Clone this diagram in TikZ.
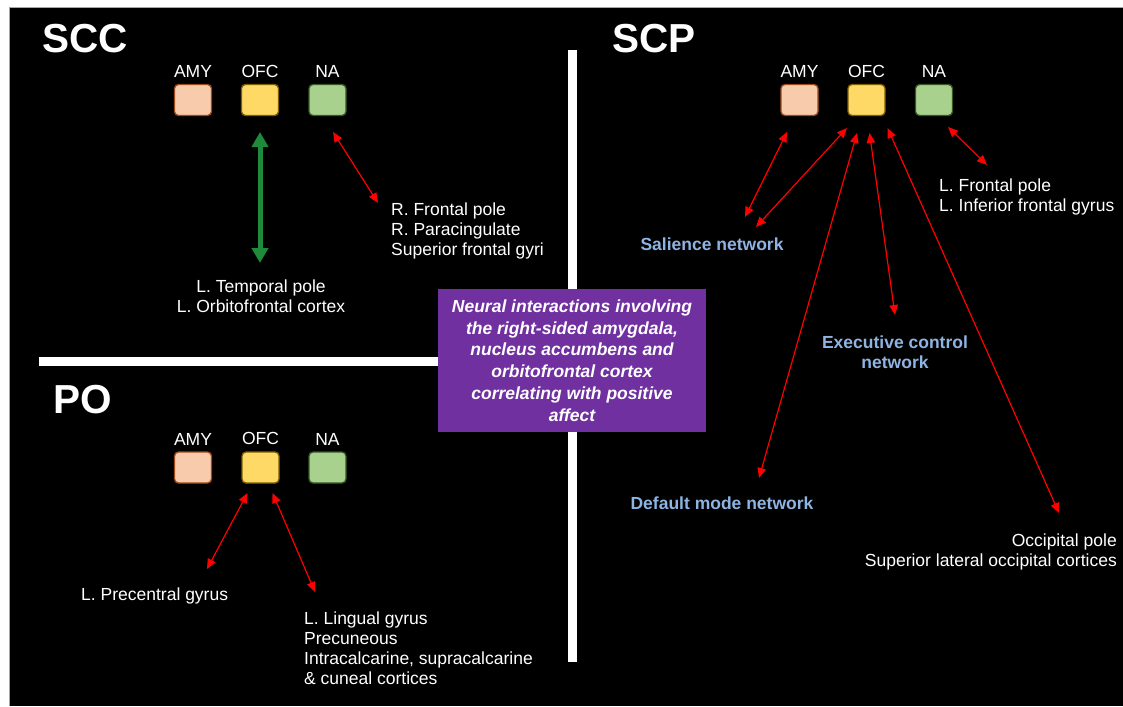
\documentclass[tikz,border=0pt]{standalone}
\usepackage{fontspec}
\setmainfont{Liberation Sans}
\usepackage{xcolor}
\usetikzlibrary{arrows.meta, positioning}

\definecolor{amyfill}{HTML}{F8CBAD}
\definecolor{amyedge}{HTML}{9C4A1A}
\definecolor{ofcfill}{HTML}{FFD966}
\definecolor{ofcedge}{HTML}{7F6000}
\definecolor{nafill}{HTML}{A9D18E}
\definecolor{naedge}{HTML}{385723}
\definecolor{netblue}{HTML}{8DB4E2}
\definecolor{purp}{HTML}{7030A0}
\definecolor{arrgreen}{HTML}{1E8B3A}

\begin{document}
\begin{tikzpicture}[
  x=1pt, y=-1pt,
  every node/.style={font=\fontsize{17.5}{20}\selectfont, text=white, inner sep=0pt},
  region/.style={font=\fontsize{40.5}{40.5}\selectfont\bfseries, anchor=base west},
  roi/.style={rounded corners=4pt, line width=1.3pt,
              minimum width=37pt, minimum height=31pt},
  amy/.style={roi, fill=amyfill, draw=amyedge},
  ofc/.style={roi, fill=ofcfill, draw=ofcedge},
  na/.style={roi, fill=nafill, draw=naedge},
  net/.style={font=\fontsize{17.5}{20}\selectfont\bfseries, text=netblue, align=center},
  area/.style={align=left, anchor=west},
  summary/.style={fill=purp, minimum width=268pt, minimum height=143pt, align=center,
                  font=\fontsize{17.5}{21.8}\selectfont\bfseries\itshape},
  arr/.style={{Triangle[length=10pt,width=8.5pt]}-{Triangle[length=10pt,width=8.5pt]},
              red, line width=1.2pt},
  garr/.style={{Triangle[length=15pt,width=16pt]}-{Triangle[length=15pt,width=16pt]},
               arrgreen, line width=5pt},
  bar/.style={white, line width=9pt},
]
  \useasboundingbox (0,0) rectangle (1123,706);
  % ── Slide background ─────────────────────────────
  \fill[white] (0,0) rectangle (1123,706);
  \fill[black] (10,8.5) rectangle (1123,706);
  \draw[black!35, line width=1pt] (9.5,706) -- (9.5,8) -- (1123,8);

  % ── Quadrant separators ──────────────────────────
  \draw[bar] (572.5,50) -- (572.5,662);
  \draw[bar] (39,361.5) -- (440,361.5);

  % ── SCC (top left) ───────────────────────────────
  \node[region] (sccT) at (42,53) {SCC};
  \node[amy] (sccA) at (193,100)   {};
  \node[ofc] (sccO) at (260,100)   {};
  \node[na]  (sccN) at (327.5,100) {};
  \node[above=6pt of sccA] (sccAl) {AMY};
  \node[above=6pt of sccO] (sccOl) {OFC};
  \node[above=6pt of sccN] (sccNl) {NA};
  \node[align=center] (sccTP) at (261,296) {L. Temporal pole\\L. Orbitofrontal cortex};
  \node[area] (sccRF) at (391,231) {R. Frontal pole\\R. Paracingulate\\Superior frontal gyri};
  \coordinate (sccG1) at (260,132);
  \coordinate (sccG2) at (260,263);
  \coordinate (sccR1) at (333,132);
  \coordinate (sccR2) at (378,203);
  \draw[garr] (sccG1) -- (sccG2);
  \draw[arr]  (sccR1) -- (sccR2);

  % ── SCP (top right) ──────────────────────────────
  \node[region] (scpT) at (612,53) {SCP};
  \node[amy] (scpA) at (799.5,100) {};
  \node[ofc] (scpO) at (866.5,100) {};
  \node[na]  (scpN) at (934,100)   {};
  \node[above=6pt of scpA] (scpAl) {AMY};
  \node[above=6pt of scpO] (scpOl) {OFC};
  \node[above=6pt of scpN] (scpNl) {NA};
  \node[net] (scpSal) at (712,244) {Salience network};
  \node[net] (scpECN) at (895,352) {Executive control\\network};
  \node[net] (scpDMN) at (722,503) {Default mode network};
  \node[area] (scpLF) at (939,196.5) {L. Frontal pole\\L. Inferior frontal gyrus};
  \node[align=right, anchor=east] (scpOcc) at (1117,552)
       {Occipital pole\\Superior lateral occipital cortices};
  \coordinate (scpA1) at (787,132);   \coordinate (scpA2) at (745,217);
  \coordinate (scpB1) at (847,128);   \coordinate (scpB2) at (756,227);
  \coordinate (scpC1) at (857,133);   \coordinate (scpC2) at (759,478);
  \coordinate (scpD1) at (869.5,133); \coordinate (scpD2) at (895,315);
  \coordinate (scpE1) at (887.5,128); \coordinate (scpE2) at (1059,513);
  \coordinate (scpF1) at (948,127);   \coordinate (scpF2) at (987,165);
  \draw[arr] (scpA1) -- (scpA2);
  \draw[arr] (scpB1) -- (scpB2);
  \draw[arr] (scpC1) -- (scpC2);
  \draw[arr] (scpD1) -- (scpD2);
  \draw[arr] (scpE1) -- (scpE2);
  \draw[arr] (scpF1) -- (scpF2);

  % ── PO (bottom left) ─────────────────────────────
  \node[region] (poT) at (53,413) {PO};
  \node[amy] (poA) at (193,467.5)   {};
  \node[ofc] (poO) at (260.5,467.5) {};
  \node[na]  (poN) at (327.5,467.5) {};
  \node[above=6pt of poA] (poAl) {AMY};
  \node[above=6pt of poO] (poOl) {OFC};
  \node[above=6pt of poN] (poNl) {NA};
  \node[area] (poPre) at (81,596) {L. Precentral gyrus};
  \node[area] (poLing) at (304,648)
       {L. Lingual gyrus\\Precuneous\\Intracalcarine, supracalcarine\\\& cuneal cortices};
  \coordinate (poP1) at (247.5,493); \coordinate (poP2) at (207,569);
  \coordinate (poQ1) at (272.5,493); \coordinate (poQ2) at (315,592);
  \draw[arr] (poP1) -- (poP2);
  \draw[arr] (poQ1) -- (poQ2);

  % ── Central summary box ──────────────────────────
  \node[summary] (sum) at (572,360.5)
       {Neural interactions involving\\the right-sided amygdala,\\nucleus accumbens and\\orbitofrontal cortex\\correlating with positive\\affect};
\end{tikzpicture}
\end{document}
